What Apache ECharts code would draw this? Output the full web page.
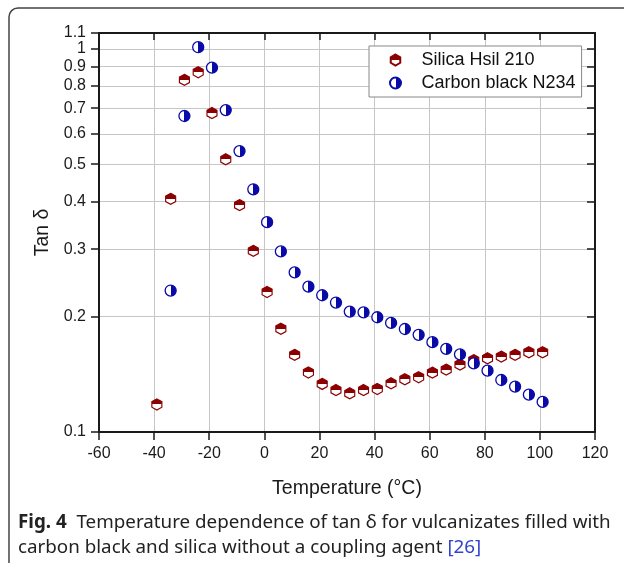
<!DOCTYPE html>
<html>
<head>
<meta charset="utf-8">
<script src="https://cdn.jsdelivr.net/npm/echarts@6/dist/echarts.min.js"></script>
<style>
  html, body { margin: 0; padding: 0; background: #fff; }
  #chart { width: 624px; height: 563px; }
</style>
</head>
<body>
<div id="chart"></div>
<script>
// temperatures (°C) and tan delta
const tempSilica = [-39, -34, -29, -24, -19, -14, -9, -4, 1, 6, 11, 16, 21, 26, 31, 36, 41, 46, 51, 56, 61, 66, 71, 76, 81, 86, 91, 96, 101];
const tanSilica = [0.118, 0.406, 0.830, 0.869, 0.680, 0.515, 0.391, 0.297, 0.232, 0.186, 0.159, 0.143, 0.1335, 0.1287, 0.1262, 0.1287, 0.1295, 0.134, 0.1373, 0.139, 0.1429, 0.1455, 0.150, 0.154, 0.1557, 0.1573, 0.159, 0.1615, 0.1615];
const tempCarbon = [-34, -29, -24, -19, -14, -9, -4, 1, 6, 11, 16, 21, 26, 31, 36, 41, 46, 51, 56, 61, 66, 71, 76, 81, 86, 91, 96, 101];
const tanCarbon = [0.234, 0.668, 1.01, 0.893, 0.692, 0.541, 0.430, 0.353, 0.296, 0.261, 0.2395, 0.2275, 0.2177, 0.2062, 0.2053, 0.1993, 0.1926, 0.1857, 0.1793, 0.1716, 0.1648, 0.1595, 0.151, 0.1446, 0.1367, 0.1314, 0.1252, 0.1198];
const yTicks = [0.1, 0.2, 0.3, 0.4, 0.5, 0.6, 0.7, 0.8, 0.9, 1, 1.1];
const seriesNames = ['Silica Hsil 210', 'Carbon black N234'];

const RED = '#8b0000';
const BLUE = '#0a0aa8';
const AXIS = '#1a1a1a';
const GRID = '#c6c6c6';
const FONT = 'Liberation Sans, Arial, sans-serif';

const chart = echarts.init(document.getElementById('chart'));

const yLogTicks = yTicks.map((v) => Math.log10(v));
const yMin = Math.log10(yTicks[0]);
const yMax = Math.log10(yTicks[yTicks.length - 1]);

const halfFill = (color, horizontal) => new echarts.graphic.LinearGradient(0, 0, horizontal ? 1 : 0, horizontal ? 0 : 1, horizontal ? [
  { offset: 0, color: '#fff' }, { offset: 0.5, color: '#fff' },
  { offset: 0.5, color: color }, { offset: 1, color: color }
] : [
  { offset: 0, color: color }, { offset: 0.5, color: color },
  { offset: 0.5, color: '#fff' }, { offset: 1, color: '#fff' }
]);

const hexagon = 'path://M5,0 L9.33,2.5 L9.33,7.5 L5,10 L0.67,7.5 L0.67,2.5 Z';

const valueAxisY = (position, inside) => ({
  type: 'value',
  position: position,
  min: yMin,
  max: yMax,
  axisLine: { show: true, onZero: false, lineStyle: { color: AXIS, width: 2 } },
  axisTick: { show: true, inside: inside, length: 8, customValues: yLogTicks, lineStyle: { color: AXIS, width: 1.5 } },
  axisLabel: {
    show: !inside,
    customValues: yLogTicks,
    margin: 13,
    color: AXIS,
    fontFamily: FONT,
    fontSize: 16,
    formatter: (v) => String(Math.round(Math.pow(10, v) * 10) / 10)
  },
  splitLine: { show: !inside, lineStyle: { color: GRID, width: 1 } }
});

chart.setOption({
  animation: false,
  backgroundColor: '#fff',
  title: {
    left: 13,
    top: 505,
    text: '{b|Fig. 4}  Temperature dependence of tan δ for vulcanizates filled with\ncarbon black and silica without a coupling agent {l|[26]}',
    textStyle: {
      fontFamily: 'Noto Sans', fontSize: 18.8, fontWeight: 'normal', color: '#222', lineHeight: 25,
      rich: {
        b: { fontFamily: 'Noto Sans', fontSize: 18.8, fontWeight: 'bold', color: '#222', lineHeight: 25 },
        l: { fontFamily: 'Noto Sans', fontSize: 18.8, color: '#3344cc', lineHeight: 25 }
      }
    }
  },
  graphic: [{
    type: 'rect',
    shape: { x: 9, y: 8, width: 900, height: 900, r: 9 },
    style: { fill: 'none', stroke: '#444', lineWidth: 1.5 },
    silent: true
  }],
  legend: {
    orient: 'vertical',
    left: 369,
    top: 46,
    padding: [5, 6, 5, 20],
    itemWidth: 42,
    itemHeight: 11,
    itemGap: 5,
    backgroundColor: '#fff',
    borderColor: '#888',
    borderWidth: 1,
    borderRadius: 0,
    textStyle: { fontFamily: FONT, fontSize: 18, color: '#111' },
    data: seriesNames
  },
  grid: { left: 99, right: 29, top: 33, bottom: 131 },
  xAxis: [{
    type: 'value',
    position: 'bottom',
    min: -60, max: 120, interval: 20,
    name: 'Temperature (°C)',
    nameLocation: 'middle',
    nameGap: 47,
    nameTextStyle: { fontFamily: FONT, fontSize: 19.5, color: AXIS },
    axisLine: { show: true, onZero: false, lineStyle: { color: AXIS, width: 2 } },
    axisTick: { show: true, inside: false, length: 8, lineStyle: { color: AXIS, width: 1.5 } },
    axisLabel: { margin: 14, color: AXIS, fontFamily: FONT, fontSize: 16 },
    splitLine: { show: true, lineStyle: { color: GRID, width: 1 } }
  }, {
    type: 'value',
    position: 'top',
    min: -60, max: 120, interval: 20,
    axisLine: { show: true, onZero: false, lineStyle: { color: AXIS, width: 2 } },
    axisTick: { show: true, inside: true, length: 7, lineStyle: { color: AXIS, width: 1.5 } },
    axisLabel: { show: false },
    splitLine: { show: false }
  }],
  yAxis: [{
    type: 'log',
    show: false,
    min: yTicks[0],
    max: yTicks[yTicks.length - 1]
  }, Object.assign(valueAxisY('left', false), {
    name: 'Tan δ',
    nameLocation: 'middle',
    nameGap: 39,
    nameTextStyle: { fontFamily: FONT, fontSize: 19.5, color: AXIS }
  }), valueAxisY('right', true)],
  series: [{
    name: seriesNames[0],
    type: 'scatter',
    xAxisIndex: 0,
    yAxisIndex: 0,
    symbol: hexagon,
    symbolSize: [10, 11],
    itemStyle: { color: halfFill(RED, false), borderColor: RED, borderWidth: 1.2, opacity: 1 },
    data: tempSilica.map((t, i) => [t, tanSilica[i]]),
    z: 3
  }, {
    name: seriesNames[1],
    type: 'scatter',
    xAxisIndex: 0,
    yAxisIndex: 0,
    symbol: 'circle',
    symbolSize: 11,
    itemStyle: { color: halfFill(BLUE, true), borderColor: BLUE, borderWidth: 1.3, opacity: 1 },
    data: tempCarbon.map((t, i) => [t, tanCarbon[i]]),
    z: 3
  }]
});
</script>
</body>
</html>
